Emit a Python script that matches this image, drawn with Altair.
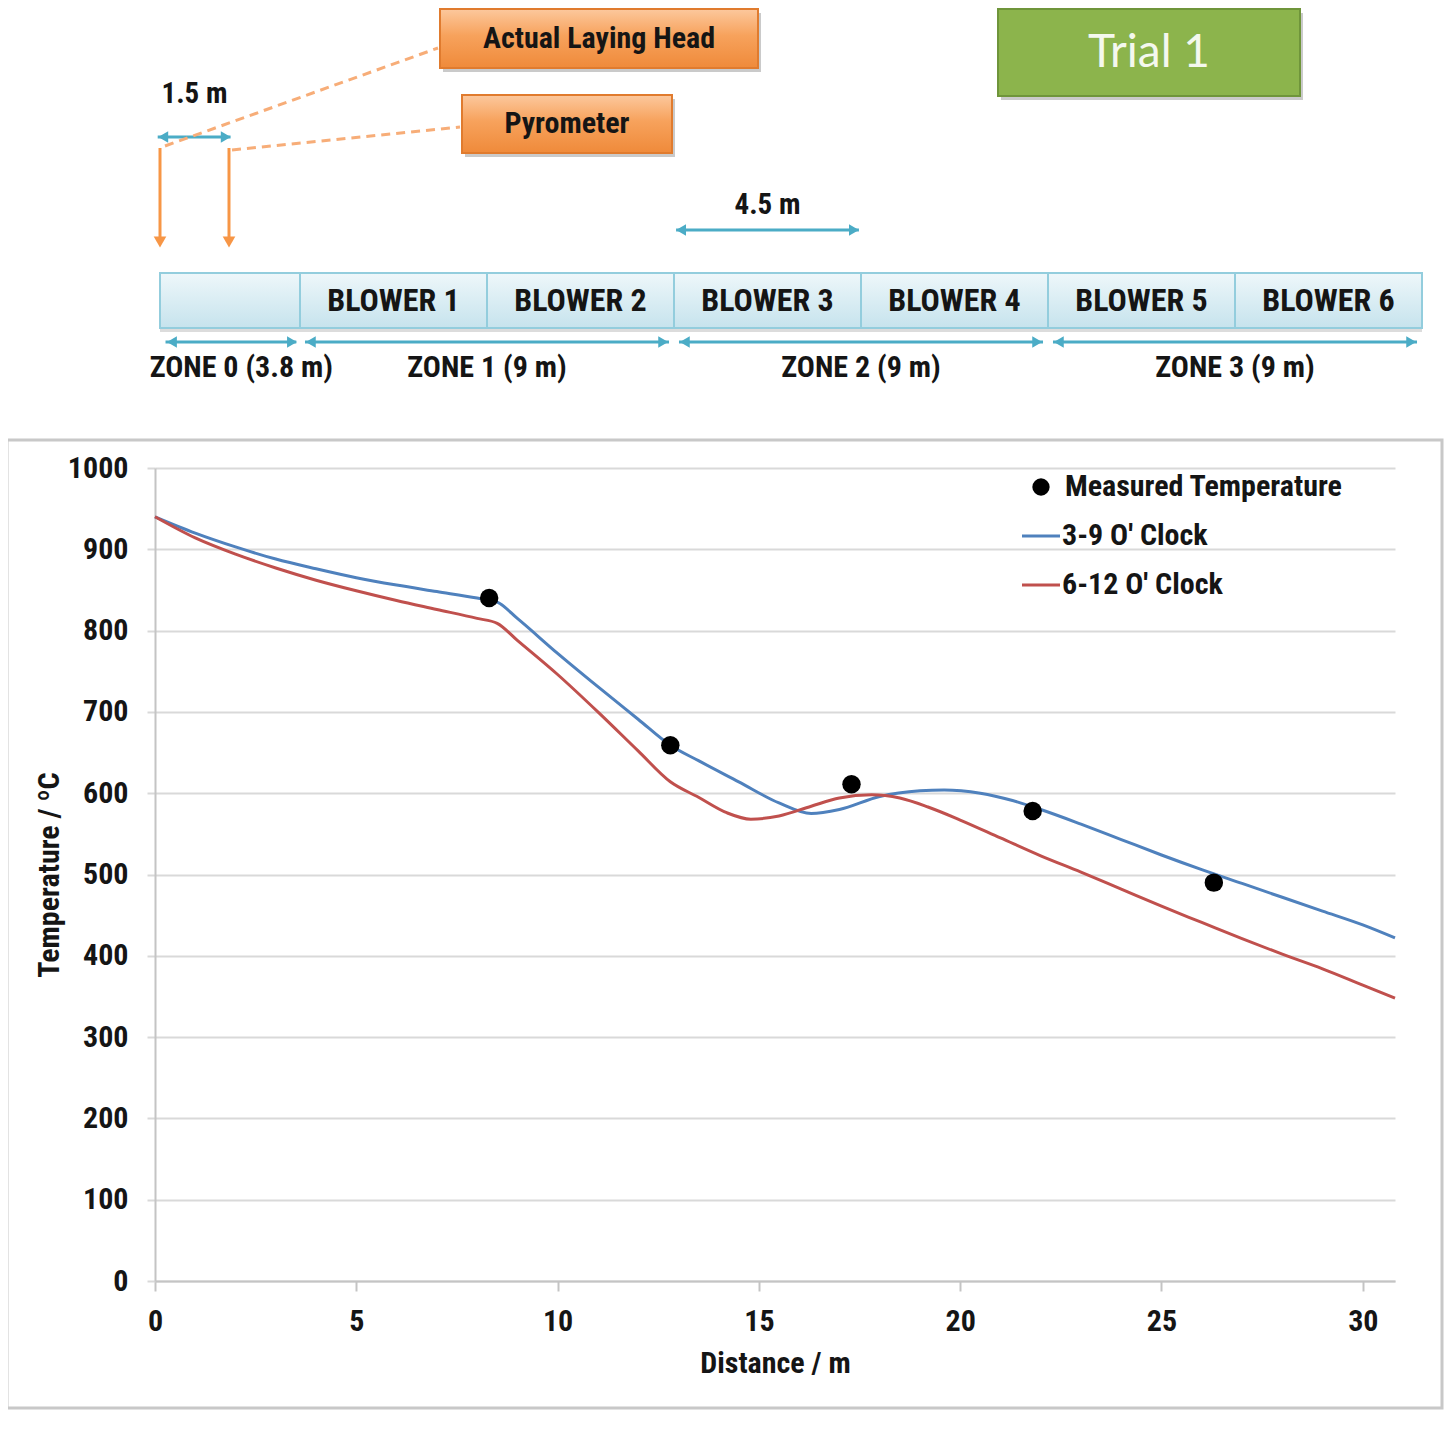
import altair as alt
import pandas as pd

# ---------------- data ----------------
blue_dist = [0, 1, 2, 3, 4, 5, 6, 7, 8, 8.5, 9, 10, 11, 12, 12.8, 13.5, 14.5, 15.5, 16.3, 17,
             18, 19, 19.6, 20.5, 21.3, 22, 23, 24, 25, 26, 27, 28, 29, 30, 30.8]
blue_temp = [940, 920, 903, 888, 876, 865, 856, 848, 840, 835, 815, 772, 731, 691, 659, 640, 614, 588, 575, 580,
             596, 603, 604, 600, 591, 580, 562, 543, 524, 506, 489, 472, 455, 438, 422]
red_dist = [0, 1, 2, 3, 4, 5, 6, 7, 8, 8.5, 9, 10, 11, 12, 12.8, 13.5, 14.2, 14.8, 15.5, 16.3,
            17, 17.8, 18.5, 19.2, 20, 21, 22, 23, 24, 25, 26, 27, 28, 29, 30, 30.8]
red_temp = [940, 914, 894, 877, 862, 849, 837, 826, 815, 809, 788, 746, 700, 652, 614, 595, 576, 568, 572, 584,
            594, 598, 594, 583, 567, 545, 523, 503, 482, 461, 441, 421, 402, 384, 364, 348]
meas_dist = [8.3, 12.8, 17.3, 21.8, 26.3]
meas_temp = [840, 659, 611, 578, 490]

series_names = ["Measured Temperature", "3-9 O' Clock", "6-12 O' Clock"]
series_colors = ["#000000", "#4f81bd", "#c0504d"]

x_ticks = [0, 5, 10, 15, 20, 25, 30]
y_ticks = [0, 100, 200, 300, 400, 500, 600, 700, 800, 900, 1000]

seg_start = [0, 3.8, 8.3, 12.8, 17.3, 21.8, 26.3]
seg_end = [3.8, 8.3, 12.8, 17.3, 21.8, 26.3, 30.8]
seg_label = ["", "BLOWER 1", "BLOWER 2", "BLOWER 3", "BLOWER 4", "BLOWER 5", "BLOWER 6"]

zone_start = [0, 3.8, 12.8, 21.8]
zone_end = [3.8, 12.8, 21.8, 30.8]
zone_label = ["ZONE 0 (3.8 m)", "ZONE 1 (9 m)", "ZONE 2 (9 m)", "ZONE 3 (9 m)"]

sensor_pos = [0, 1.5]          # laying head, pyrometer (m)
dim_small = [0, 1.5, "1.5 m"]
dim_blower = [12.8, 17.3, "4.5 m"]

# ---------------- style ----------------
FONT = "Liberation Sans Narrow, Roboto Condensed, DejaVu Sans Condensed, Arial Narrow, sans-serif"
TXT = "#151515"
TEAL = "#4bacc6"
ORANGE = "#f79646"
W, H = 1240, 813

# ---------------- plot ----------------
curve_df = pd.concat([
    pd.DataFrame({"dist": blue_dist, "temp": blue_temp, "series": series_names[1]}),
    pd.DataFrame({"dist": red_dist, "temp": red_temp, "series": series_names[2]}),
])
meas_df = pd.DataFrame({"dist": meas_dist, "temp": meas_temp})

xs = alt.Scale(domain=[0, 30.8], nice=False, zero=False)
ys = alt.Scale(domain=[0, 1000], nice=False)

x_axis = alt.Axis(values=x_ticks, grid=False, domainColor="#c4c4c4", domainWidth=2,
                  tickColor="#c4c4c4", tickWidth=2, tickSize=10, format="d",
                  labelFont=FONT, labelFontSize=30, labelFontWeight="bold", labelColor=TXT,
                  labelPadding=15, labelFlush=False, labelOverlap=False,
                  title="Distance / m", titleFont=FONT, titleFontSize=30, titleFontWeight="bold",
                  titleColor=TXT, titlePadding=12)
y_axis = alt.Axis(values=y_ticks, grid=True, gridColor="#d9d9d9", gridWidth=2, format="d",
                  domainColor="#c4c4c4", domainWidth=2, tickColor="#d9d9d9", tickWidth=2, tickSize=8,
                  labelFont=FONT, labelFontSize=30, labelFontWeight="bold", labelColor=TXT,
                  labelPadding=19, labelOverlap=False,
                  title="Temperature / ºC", titleFont=FONT, titleFontSize=30, titleFontWeight="bold",
                  titleColor=TXT, titlePadding=3)

lines = alt.Chart(curve_df).mark_line(strokeWidth=3, interpolate="monotone").encode(
    x=alt.X("dist:Q", scale=xs, axis=x_axis),
    y=alt.Y("temp:Q", scale=ys, axis=y_axis),
    color=alt.Color("series:N", scale=alt.Scale(domain=series_names, range=series_colors), legend=None),
)
points = alt.Chart(meas_df).mark_point(filled=True, size=340, opacity=1, color="#000000").encode(
    x=alt.X("dist:Q", scale=xs), y=alt.Y("temp:Q", scale=ys))
plot = alt.layer(lines, points)

# ---------------- diagram (x in metres along the line) ----------------
ds = alt.Scale(domain=[0, 1.5, 3.8, 30.8], range=[5, 74, 145, 1267], nice=False, zero=False)
seg_df = pd.DataFrame({"start": seg_start, "end": seg_end, "label": seg_label})
zone_df = pd.DataFrame({"start": zone_start, "end": zone_end, "label": zone_label})

box_grad = alt.Gradient(gradient="linear", x1=0, y1=0, x2=0, y2=1,
                        stops=[alt.GradientStop(color="#eef7fa", offset=0),
                               alt.GradientStop(color="#c6e3ed", offset=1)])
box_shadow = alt.Chart(seg_df).mark_rect(fill="#9a9a9a", opacity=0.35).encode(
    x=alt.X("start:Q", scale=ds, axis=None), x2="end:Q", y=alt.value(-192), y2=alt.value(-136))
boxes = alt.Chart(seg_df).mark_rect(fill=box_grad, stroke="#93cddd", strokeWidth=2).encode(
    x=alt.X("start:Q", scale=ds, axis=None), x2="end:Q", y=alt.value(-195), y2=alt.value(-140))
box_text = alt.Chart(seg_df).transform_calculate(mid="(datum.start + datum.end) / 2").mark_text(
    font=FONT, fontSize=32, fontWeight="bold", color=TXT, baseline="middle").encode(
    x=alt.X("mid:Q", scale=ds, axis=None), y=alt.value(-167), text="label:N")

zone_rule = alt.Chart(zone_df).transform_calculate(
    a="datum.start + 0.12", b="datum.end - 0.12").mark_rule(color=TEAL, strokeWidth=3).encode(
    x=alt.X("a:Q", scale=ds, axis=None), x2="b:Q", y=alt.value(-126))
zone_hl = alt.Chart(zone_df).transform_calculate(p="datum.start + 0.26").mark_point(
    shape="triangle-left", filled=True, size=130, opacity=1, color=TEAL).encode(
    x=alt.X("p:Q", scale=ds, axis=None), y=alt.value(-126))
zone_hr = alt.Chart(zone_df).transform_calculate(p="datum.end - 0.26").mark_point(
    shape="triangle-right", filled=True, size=130, opacity=1, color=TEAL).encode(
    x=alt.X("p:Q", scale=ds, axis=None), y=alt.value(-126))
zone_text = alt.Chart(zone_df).transform_calculate(mid="(datum.start + datum.end) / 2").mark_text(
    font=FONT, fontSize=30, fontWeight="bold", color=TXT, baseline="middle").encode(
    x=alt.X("mid:Q", scale=ds, axis=None), y=alt.value(-100), text="label:N")


def dimension(spec, y_line, y_text, inset):
    d = pd.DataFrame({"start": [spec[0]], "end": [spec[1]], "label": [spec[2]]})
    base = alt.Chart(d)
    rule = base.transform_calculate(a=f"datum.start + {inset}", b=f"datum.end - {inset}").mark_rule(
        color=TEAL, strokeWidth=3).encode(x=alt.X("a:Q", scale=ds, axis=None), x2="b:Q", y=alt.value(y_line))
    hl = base.transform_calculate(p=f"datum.start + {inset} + 0.12").mark_point(
        shape="triangle-left", filled=True, size=130, opacity=1, color=TEAL).encode(
        x=alt.X("p:Q", scale=ds, axis=None), y=alt.value(y_line))
    hr = base.transform_calculate(p=f"datum.end - {inset} - 0.12").mark_point(
        shape="triangle-right", filled=True, size=130, opacity=1, color=TEAL).encode(
        x=alt.X("p:Q", scale=ds, axis=None), y=alt.value(y_line))
    txt = base.transform_calculate(mid="(datum.start + datum.end) / 2").mark_text(
        font=FONT, fontSize=29, fontWeight="bold", color=TXT, baseline="middle").encode(
        x=alt.X("mid:Q", scale=ds, axis=None), y=alt.value(y_text), text="label:N")
    return [rule, hl, hr, txt]


sensor_df = pd.DataFrame({"pos": sensor_pos})
sensor_rule = alt.Chart(sensor_df).mark_rule(color=ORANGE, strokeWidth=3).encode(
    x=alt.X("pos:Q", scale=ds, axis=None), y=alt.value(-320), y2=alt.value(-230))
sensor_head = alt.Chart(sensor_df).mark_point(shape="triangle-down", filled=True, size=160,
                                              opacity=1, color=ORANGE).encode(
    x=alt.X("pos:Q", scale=ds, axis=None), y=alt.value(-226))

diagram = alt.layer(box_shadow, boxes, box_text, zone_rule, zone_hl, zone_hr, zone_text,
                    *dimension(dim_small, -331, -374, -0.05), *dimension(dim_blower, -238, -263, 0.05),
                    sensor_rule, sensor_head)

# ---------------- annotations ----------------
one = pd.DataFrame({"k": [0]})
frame = alt.Chart(one).mark_rect(fillOpacity=0, stroke="#c8c8c8", strokeWidth=3).encode(
    x=alt.value(-148), x2=alt.value(1287), y=alt.value(-28), y2=alt.value(940))

dash1 = alt.Chart(one).mark_rule(color="#f7ad78", strokeWidth=3, strokeDash=[9, 6]).encode(
    x=alt.value(10), y=alt.value(-322), x2=alt.value(283), y2=alt.value(-420))
dash2 = alt.Chart(one).mark_rule(color="#f7ad78", strokeWidth=3, strokeDash=[9, 6]).encode(
    x=alt.value(77), y=alt.value(-318), x2=alt.value(305), y2=alt.value(-341))

orange_grad = alt.Gradient(gradient="linear", x1=0, y1=0, x2=0, y2=1,
                           stops=[alt.GradientStop(color="#fcc89d", offset=0),
                                  alt.GradientStop(color="#f7a25c", offset=0.45),
                                  alt.GradientStop(color="#ef8a3a", offset=1)])


def callout(x0, x1, y0, y1, label, fill, stroke, tcolor, fsize, font, weight):
    sh = alt.Chart(one).mark_rect(fill="#8a8a8a", opacity=0.45).encode(
        x=alt.value(x0 + 3), x2=alt.value(x1 + 3), y=alt.value(y0 + 4), y2=alt.value(y1 + 4))
    bx = alt.Chart(one).mark_rect(fill=fill, stroke=stroke, strokeWidth=2).encode(
        x=alt.value(x0), x2=alt.value(x1), y=alt.value(y0), y2=alt.value(y1))
    tx = alt.Chart(one).mark_text(text=label, font=font, fontSize=fsize, fontWeight=weight,
                                  color=tcolor, baseline="middle", align="center").encode(
        x=alt.value((x0 + x1) / 2), y=alt.value((y0 + y1) / 2))
    return [sh, bx, tx]


c_head = callout(285, 603, -459, -400, "Actual Laying Head", orange_grad, "#e07b2e", TXT, 30, FONT, "bold")
c_pyro = callout(307, 517, -373, -315, "Pyrometer", orange_grad, "#e07b2e", TXT, 30, FONT, "bold")
c_trial = callout(843, 1145, -459, -372, "Trial 1", "#8cb44c", "#6f953a", "#f4f8ee", 46,
                  "Lato, Open Sans, Noto Sans, sans-serif", "normal")

# legend
leg_dot = alt.Chart(one).mark_point(filled=True, size=300, opacity=1, color="#000000").encode(
    x=alt.value(886), y=alt.value(19))
leg_blue = alt.Chart(one).mark_rule(color=series_colors[1], strokeWidth=3).encode(
    x=alt.value(867), x2=alt.value(905), y=alt.value(68))
leg_red = alt.Chart(one).mark_rule(color=series_colors[2], strokeWidth=3).encode(
    x=alt.value(867), x2=alt.value(905), y=alt.value(117))
leg_txt = [
    alt.Chart(one).mark_text(text=series_names[0], font=FONT, fontSize=30, fontWeight="bold", color=TXT,
                             align="left", baseline="middle").encode(x=alt.value(910), y=alt.value(19)),
    alt.Chart(one).mark_text(text=series_names[1], font=FONT, fontSize=30, fontWeight="bold", color=TXT,
                             align="left", baseline="middle").encode(x=alt.value(907), y=alt.value(68)),
    alt.Chart(one).mark_text(text=series_names[2], font=FONT, fontSize=30, fontWeight="bold", color=TXT,
                             align="left", baseline="middle").encode(x=alt.value(907), y=alt.value(117)),
]

annot = alt.layer(dash1, dash2, *c_head, *c_pyro, *c_trial, leg_dot, leg_blue, leg_red, *leg_txt)

chart = alt.layer(frame, plot, diagram, annot).resolve_scale(
    x="independent", y="independent"
).properties(
    width=W, height=H,
    padding={"left": 147, "top": 460, "right": 50, "bottom": 137},
    autosize=alt.AutoSizeParams(type="none"),
    background="white",
).configure_view(stroke=None)

chart.save("out.html", embed_options={"renderer": "svg", "actions": False})
